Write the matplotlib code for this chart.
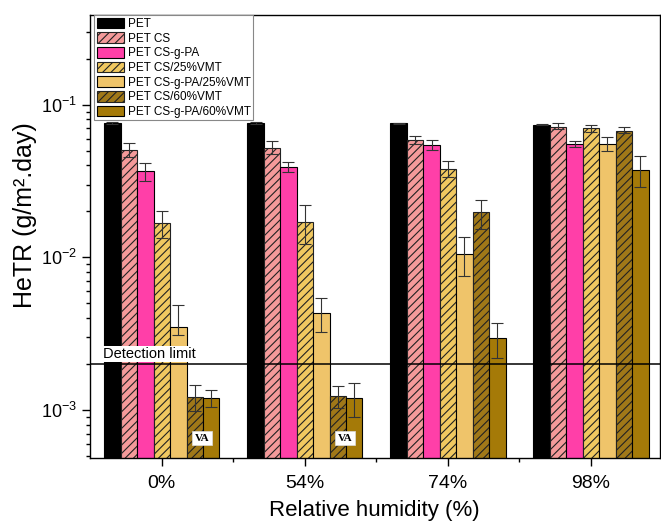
import numpy as np
import matplotlib
matplotlib.use("Agg")
import matplotlib.pyplot as plt
from matplotlib.ticker import LogLocator, NullFormatter, FixedLocator

plt.rcParams['font.family'] = ['Liberation Sans', 'DejaVu Sans']
plt.rcParams['hatch.linewidth'] = 0.8

humidity = ['0%', '54%', '74%', '98%']
series = ['PET', 'PET CS', 'PET CS-g-PA', 'PET CS/25%VMT',
          'PET CS-g-PA/25%VMT', 'PET CS/60%VMT', 'PET CS-g-PA/60%VMT']

# HeTR values (g/m2.day), one row per series, one column per humidity
values = [
    [0.076, 0.0755, 0.0755, 0.074],
    [0.0505, 0.052, 0.0587, 0.0718],
    [0.0366, 0.0392, 0.0547, 0.0552],
    [0.0167, 0.0171, 0.038, 0.070],
    [0.0035, 0.00435, 0.0106, 0.0552],
    [0.00122, 0.00124, 0.0197, 0.0675],
    [0.0012, 0.0012, 0.00295, 0.0375],
]
err_low = [
    [0.0012, 0.0012, 0.0008, 0.0008],
    [0.005, 0.0045, 0.0035, 0.003],
    [0.0048, 0.003, 0.0045, 0.0025],
    [0.0033, 0.0049, 0.0044, 0.0033],
    [0.0004, 0.0011, 0.003, 0.0053],
    [0.00024, 0.0002, 0.0043, 0.0027],
    [0.00015, 0.0003, 0.00075, 0.0084],
]
err_high = [
    [0.0012, 0.0012, 0.0008, 0.0008],
    [0.0052, 0.0055, 0.0039, 0.0036],
    [0.0049, 0.003, 0.0043, 0.0029],
    [0.0035, 0.005, 0.0045, 0.004],
    [0.0014, 0.0011, 0.003, 0.0058],
    [0.00025, 0.0002, 0.004, 0.0035],
    [0.00015, 0.0003, 0.00075, 0.0083],
]
detection_limit = 0.002

colors = ['#000000', '#f49a9a', '#ff3fa8', '#f0c860', '#efc46a', '#a07818', '#a57a08']
hatches = [None, '////', None, '////', None, '////', None]

fig = plt.figure(figsize=(6.61, 5.26), dpi=100)
ax = fig.add_axes([0.136, 0.129, 0.862, 0.842])

x = np.arange(len(humidity))
w = 0.115
for i, name in enumerate(series):
    pos = x + (i - 3) * w
    edge = '#222222' if hatches[i] else 'black'
    ax.bar(pos, np.array(values[i]) - 1e-5, width=w, bottom=1e-5,
           color=colors[i], edgecolor=edge, linewidth=0.8,
           hatch=hatches[i], label=name, zorder=2)
    ax.errorbar(pos, values[i], yerr=[err_low[i], err_high[i]], fmt='none',
                ecolor='#333333', elinewidth=0.8, capsize=4.5, capthick=0.8, zorder=3)

ax.axhline(detection_limit, color='black', linewidth=1.1, zorder=4)
ax.text(-0.41, detection_limit * 1.05, 'Detection limit', fontsize=10.5,
        ha='left', va='bottom', zorder=5,
        bbox=dict(facecolor='white', edgecolor='none', pad=0.5))

for g in [0, 1]:
    ax.text(x[g] + 2.45 * w, 6.55e-4, 'VA', fontsize=8, fontweight='bold',
            family=['Liberation Serif', 'DejaVu Serif'],
            ha='center', va='center', zorder=5,
            bbox=dict(facecolor='white', edgecolor='#dddddd', linewidth=0.5, pad=2))

ax.set_yscale('log')
ax.set_ylim(4.85e-4, 0.385)
ax.set_xlim(-0.503, 3.48)

ax.yaxis.set_major_locator(LogLocator(base=10, numticks=10))
ax.yaxis.set_minor_locator(LogLocator(base=10, subs=np.arange(2, 10), numticks=10))
ax.yaxis.set_minor_formatter(NullFormatter())
ax.set_xticks(x)
ax.set_xticklabels(humidity)
ax.xaxis.set_minor_locator(FixedLocator([0.5, 1.5, 2.5]))

ax.tick_params(axis='both', which='major', direction='out', length=6, width=1,
               labelsize=14, top=False, right=False)
ax.tick_params(axis='both', which='minor', direction='out', length=3, width=1,
               top=False, right=False)
ax.tick_params(axis='y', labelsize=13)
ax.tick_params(axis='x', pad=6)
for s in ax.spines.values():
    s.set_linewidth(1.0)

ax.set_ylabel('HeTR (g/m².day)', fontsize=18)
ax.yaxis.set_label_coords(-0.092, 0.549)
ax.set_xlabel('Relative humidity (%)', fontsize=16, labelpad=6)

leg = ax.legend(loc='upper left', bbox_to_anchor=(0.008, 1.0), borderaxespad=0,
                fontsize=8.5, labelspacing=0.2, handlelength=2.3, handleheight=1.0,
                handletextpad=0.3, borderpad=0.2, fancybox=False, framealpha=1)
leg.get_frame().set_edgecolor('#888888')
leg.get_frame().set_linewidth(0.8)

fig.savefig('out.png', dpi=100)
